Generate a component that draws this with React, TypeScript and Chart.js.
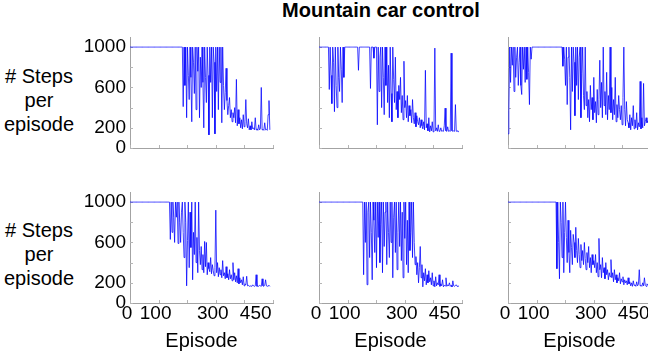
import React, { useEffect, useRef } from "react";
import { Chart, registerables } from "chart.js";

Chart.register(...registerables);

// ---------- data ----------
const TITLE = "Mountain car control";
const Y_TITLE = ["# Steps", "per", "episode"];
const X_TITLE = "Episode";
const EPISODE_STRIDE = 3; // one sample every 3 episodes (0, 3, 6, ... 489)
const yTickLabels = [0, 200, 600, 1000];
const xTickLabels = [0, 100, 300, 450];
const yTickMarks = [0, 200, 400, 600, 800, 1000];
const xTickMarks = [0, 100, 200, 300, 400, 500];

// top-left
const stepsTopLeft = [
  1000, 1000, 1000, 1000, 1000, 1000, 1000, 1000, 1000, 1000,
  1000, 1000, 1000, 1000, 1000, 1000, 1000, 1000, 1000, 1000,
  1000, 1000, 1000, 1000, 1000, 1000, 1000, 1000, 1000, 1000,
  1000, 1000, 1000, 1000, 1000, 1000, 1000, 1000, 1000, 1000,
  1000, 1000, 1000, 1000, 1000, 1000, 1000, 1000, 1000, 1000,
  1000, 1000, 1000, 1000, 1000, 1000, 1000, 1000, 1000, 1000,
  1000, 1000,
  410, 1000, 620, 1000, 300, 1000, 720, 480, 1000, 700,
  260, 1000, 850, 540, 1000, 380, 1000, 760, 1000, 300,
  900, 600, 1000, 650, 200, 1000, 700, 450, 1000, 720,
  130, 1000, 650, 1000, 300, 1000, 850, 140, 1000, 560,
  1000, 380, 1000, 650, 1000, 250, 1000,
  620, 380, 550, 790, 470, 330, 420, 500, 300, 380,
  260, 350, 300, 400, 250, 680, 220, 380, 240, 300,
  200, 280, 190, 330, 210, 260, 480, 240, 200, 290,
  180, 220, 180, 260, 190, 200, 180, 300, 180, 190,
  175, 230, 180, 190, 600, 180, 185, 175, 250, 180,
  185, 175, 330, 470, 180,
];

// top-middle
const stepsTopMid = [
  1000, 1000, 1000, 1000, 1000, 1000, 1000, 1000, 1000, 1000,
  1000, 1000,
  580, 1000, 720, 440, 1000, 850, 360, 1000, 620, 400,
  1000, 700, 560, 1000, 780, 450, 1000, 700, 1000, 1000,
  1000, 1000, 1000, 1000, 1000, 1000, 1000, 1000, 1000, 1000,
  1000, 1000, 1000, 1000,
  770, 1000,
  1000, 1000, 1000, 1000, 1000, 1000, 1000, 1000, 1000, 1000,
  1000, 1000,
  590, 1000, 1000, 1000, 890, 1000, 1000, 1000,
  230, 1000, 560, 900, 1000, 400, 1000, 700, 330, 1000,
  620, 1000, 450, 820, 300, 1000, 540, 260, 1000,
  680, 450, 900, 380, 560, 300, 620, 480, 700, 350,
  520, 280, 860, 400, 470, 300, 520, 260, 420, 320,
  380, 250, 480,
  300, 240, 350, 210, 320, 260, 230, 300, 200, 280, 220, 190,
  260, 180, 770, 200, 240, 170, 300, 160, 220, 170, 260, 160, 180,
  990, 170, 200, 165, 230, 165, 170, 200, 165, 170,
  165, 220, 395, 170, 165, 210, 165, 170, 165, 940,
  170, 165, 170, 165, 430, 165, 170, 165, 160,
];

// top-right
const stepsTopRight = [
  140, 370, 1000, 650, 1000, 820, 1000, 560, 1000, 700,
  900, 1000, 620, 850, 1000, 620, 530, 1000, 780, 1000,
  650, 1000, 680, 1000, 750, 430, 1000, 880, 1000, 1000,
  1000,
  1000, 1000, 1000, 1000, 1000, 1000, 1000, 1000, 1000, 1000,
  1000, 1000, 1000, 1000, 1000, 1000, 1000, 1000, 1000, 1000,
  1000, 1000, 1000, 1000, 1000, 1000, 1000, 1000, 1000, 1000,
  1000, 1000, 1000,
  810, 1000, 880, 620, 1000, 430, 900, 1000, 700, 180,
  1000, 560, 1000, 850, 320, 1000, 620, 1000, 480, 900,
  1000, 300, 740, 1000, 520, 380, 1000,
  420, 560, 300, 480, 260, 620, 380, 500, 280, 700,
  350, 460, 250, 580, 330, 480, 870, 400, 650, 300,
  1000, 420, 560, 330, 750, 280, 520, 380,
  1000, 350, 600, 280, 480, 330, 700, 260, 430, 300,
  520, 380, 280, 420, 230, 500, 1000, 380, 220, 460,
  280, 250,
  200, 330, 180, 300, 220, 420, 190, 280, 200, 350,
  180, 250, 210, 660, 190, 300, 200, 640, 220, 260,
  300, 250, 270,
];

// bottom-left
const stepsBottomLeft = [
  1000, 1000, 1000, 1000, 1000, 1000, 1000, 1000, 1000, 1000,
  1000, 1000, 1000, 1000, 1000, 1000, 1000, 1000, 1000, 1000,
  1000, 1000, 1000, 1000, 1000, 1000, 1000, 1000, 1000, 1000,
  1000, 1000, 1000, 1000, 1000, 1000, 1000, 1000, 1000, 1000,
  1000, 1000, 1000, 1000, 1000, 1000, 1000,
  630, 1000, 700, 1000, 850, 600, 1000, 850, 1000, 590,
  1000, 800, 600, 900, 1000, 700, 450, 1000, 800, 170,
  620, 1000, 350, 900, 550, 1000, 230, 700, 480, 1000,
  400, 650, 300, 1000, 520,
  380, 560, 330, 480, 300, 610, 360, 600, 280, 400,
  340, 310, 450, 290, 380, 320, 270, 350, 920,
  300, 400, 260, 350, 280, 330, 250, 420, 270, 300,
  240, 360, 250, 290, 230, 330, 240, 280, 220,
  400, 230, 300, 210, 270, 200, 340, 190, 250, 200,
  230, 180, 260, 170, 190, 180,
  265, 170, 175, 165, 170, 170, 165, 180, 170, 165,
  170, 280, 165, 170, 165, 175, 170, 165, 240, 170,
  165, 175, 230, 170, 165, 170, 175, 165,
];

// bottom-middle
const stepsBottomMid = [
  1000, 1000, 1000, 1000, 1000, 1000, 1000, 1000, 1000, 1000,
  1000, 1000, 1000, 1000, 1000, 1000, 1000, 1000, 1000, 1000,
  1000, 1000, 1000, 1000, 1000, 1000, 1000, 1000, 1000, 1000,
  1000, 1000, 1000, 1000, 1000, 1000, 1000, 1000, 1000, 1000,
  1000, 1000, 1000, 1000, 1000, 1000, 1000, 1000, 1000, 1000,
  1000, 1000,
  280, 1000, 600, 1000, 181, 900, 1000, 450, 1000, 700,
  230, 1000, 820, 500, 1000, 350, 1000, 650, 1000, 400,
  780, 1000, 300, 1000, 560, 900, 1000, 380, 1000, 700,
  450, 1000, 600, 1000, 250, 850, 1000, 500, 1000, 330,
  700, 1000, 560, 1000, 420, 900, 250, 1000, 640, 1000,
  380, 820, 300, 1000, 520, 700, 1000, 450, 1000, 600,
  380,
  460, 280, 400, 200, 350, 560, 250, 380, 160, 300,
  220, 340, 180, 280, 200, 320, 210,
  250, 180, 300, 170, 220, 160, 260, 170, 200, 180,
  280, 165, 190, 170, 230, 160, 175, 170, 250, 165,
  180, 170, 200, 165, 175, 160, 220, 170, 165, 175,
  180, 165, 170, 165,
];

// bottom-right
const stepsBottomRight = [
  1000, 1000, 1000, 1000, 1000, 1000, 1000, 1000, 1000, 1000,
  1000, 1000, 1000, 1000, 1000, 1000, 1000, 1000, 1000, 1000,
  1000, 1000, 1000, 1000, 1000, 1000, 1000, 1000, 1000, 1000,
  1000, 1000, 1000, 1000, 1000, 1000, 1000, 1000, 1000, 1000,
  1000, 1000, 1000, 1000, 1000, 1000, 1000, 1000, 1000, 1000,
  1000, 1000, 1000, 1000, 1000, 1000,
  1000, 340, 1000, 600, 240, 1000, 800, 450, 1000, 300, 700, 1000,
  650, 400, 820, 500, 300, 720, 550, 380, 680, 600,
  450, 750, 520, 400, 640, 480, 350, 580, 420, 520,
  380, 600, 440, 330, 500, 400, 560, 350, 450, 300,
  480, 380, 420,
  350, 480, 300, 400, 260, 640, 330, 380, 250, 450,
  300, 350, 240, 400, 280, 330, 230, 300, 260,
  430, 250, 300, 210, 330, 230, 280, 200, 250, 220,
  300, 190, 240, 210, 260, 180, 230, 200, 220, 180,
  250, 190, 210,
  170, 200, 165, 220, 175, 180, 165, 210, 170, 185,
  330, 170, 175, 165, 200, 170, 250, 175, 165, 190,
  175,
];

// ---------- styling ----------
const FONT = "'Liberation Sans', Arial, Helvetica, sans-serif";
const LINE_COLOR = "#0000ff";
const AXIS_COLOR = "#a3a3a3";
const TICK_COLOR = "#b5b5b5";

const PLOT_W = 143;
const PLOT_H = 111;
const PAD_TOP = 14;
const PAD_RIGHT = 16;

const innerTicks = {
  id: "innerTicks",
  beforeDatasetsDraw(chart: any) {
    const { ctx, chartArea, scales } = chart;
    const x = scales.x;
    const y = scales.y;
    ctx.save();
    ctx.strokeStyle = TICK_COLOR;
    ctx.lineWidth = 1;
    ctx.beginPath();
    for (const v of yTickMarks) {
      const py = Math.round(y.getPixelForValue(v)) + 0.5;
      ctx.moveTo(chartArea.left, py);
      ctx.lineTo(chartArea.left + 3, py);
    }
    for (const v of xTickMarks) {
      const px = Math.round(x.getPixelForValue(v)) + 0.5;
      ctx.moveTo(px, chartArea.bottom);
      ctx.lineTo(px, chartArea.bottom - 3);
    }
    ctx.stroke();
    ctx.restore();
  },
};

type PanelProps = {
  values: number[];
  areaLeft: number;
  areaTop: number;
  showY: boolean;
  showX: boolean;
};

function Panel({ values, areaLeft, areaTop, showY, showX }: PanelProps) {
  const ref = useRef<HTMLCanvasElement | null>(null);
  const yW = showY ? 62 : 12;
  const xH = showX ? 51 : 6;
  const padBottom = showX ? 0 : 8;
  const w = yW + PLOT_W + PAD_RIGHT;
  const h = PAD_TOP + PLOT_H + xH + padBottom;

  useEffect(() => {
    if (!ref.current) return;
    const chart = new Chart(ref.current, {
      type: "line",
      data: {
        datasets: [
          {
            data: values.map((v, i) => ({ x: i * EPISODE_STRIDE, y: v })),
            borderColor: LINE_COLOR,
            borderWidth: 0.75,
            pointRadius: 0,
            tension: 0,
            fill: false,
          },
        ],
      },
      options: {
        animation: false,
        responsive: false,
        maintainAspectRatio: false,
        events: [],
        layout: { padding: { top: PAD_TOP, right: PAD_RIGHT, left: 0, bottom: padBottom } },
        plugins: {
          legend: { display: false },
          tooltip: { enabled: false },
          title: { display: false },
        },
        scales: {
          x: {
            type: "linear",
            min: 0,
            max: 500,
            grid: { display: true, drawOnChartArea: false, drawTicks: false },
            border: { display: true, color: AXIS_COLOR, width: 1 },
            ticks: {
              display: showX,
              autoSkip: false,
              maxRotation: 0,
              minRotation: 0,
              padding: 1,
              labelOffset: -3,
              color: "#000",
              font: { family: FONT, size: 19, lineHeight: 1 },
              callback: (v: any) => String(v),
            },
            afterBuildTicks: (s: any) => {
              s.ticks = xTickLabels.map((v) => ({ value: v }));
            },
            afterFit: (s: any) => {
              s.height = xH;
            },
            title: {
              display: showX,
              text: X_TITLE,
              color: "#000",
              font: { family: FONT, size: 20, lineHeight: 1.2 },
              padding: { top: 0, bottom: 1 },
            },
          },
          y: {
            type: "linear",
            min: 0,
            max: 1100,
            grid: { display: true, drawOnChartArea: false, drawTicks: false },
            border: { display: true, color: AXIS_COLOR, width: 1 },
            ticks: {
              display: showY,
              autoSkip: false,
              padding: 4,
              color: "#000",
              font: { family: FONT, size: 19, lineHeight: 1 },
              callback: (v: any) => String(v),
            },
            afterBuildTicks: (s: any) => {
              s.ticks = yTickLabels.map((v) => ({ value: v }));
            },
            afterFit: (s: any) => {
              s.width = yW;
            },
          },
        },
      },
      plugins: [innerTicks],
    } as any);
    return () => chart.destroy();
  }, []);

  return (
    <canvas
      ref={ref}
      width={w}
      height={h}
      style={{
        position: "absolute",
        left: areaLeft - yW,
        top: areaTop - PAD_TOP,
        width: w,
        height: h,
      }}
    />
  );
}

const textBase: React.CSSProperties = {
  position: "absolute",
  fontFamily: FONT,
  color: "#000",
  whiteSpace: "nowrap",
};

export default function App() {
  const cols = [130, 319, 508];
  const rows = [37, 192];
  return (
    <div
      style={{
        position: "absolute",
        left: 0,
        top: 0,
        width: 648,
        height: 354,
        overflow: "hidden",
        background: "#fff",
      }}
    >
      <div
        style={{
          ...textBase,
          left: 381,
          top: -2,
          transform: "translateX(-50%)",
          fontWeight: "bold",
          fontSize: 20,
          lineHeight: "24px",
        }}
      >
        {TITLE}
      </div>
      {[64, 218].map((t, k) => (
        <div
          key={k}
          style={{
            ...textBase,
            left: 0,
            top: t,
            width: 78,
            textAlign: "center",
            fontSize: 20,
            lineHeight: "24px",
          }}
        >
          {Y_TITLE.map((s, j) => (
            <div key={j}>{s}</div>
          ))}
        </div>
      ))}
      <Panel values={stepsTopLeft} areaLeft={cols[0]} areaTop={rows[0]} showY={true} showX={false} />
      <Panel values={stepsTopMid} areaLeft={cols[1]} areaTop={rows[0]} showY={false} showX={false} />
      <Panel values={stepsTopRight} areaLeft={cols[2]} areaTop={rows[0]} showY={false} showX={false} />
      <Panel values={stepsBottomLeft} areaLeft={cols[0]} areaTop={rows[1]} showY={true} showX={true} />
      <Panel values={stepsBottomMid} areaLeft={cols[1]} areaTop={rows[1]} showY={false} showX={true} />
      <Panel values={stepsBottomRight} areaLeft={cols[2]} areaTop={rows[1]} showY={false} showX={true} />
    </div>
  );
}
